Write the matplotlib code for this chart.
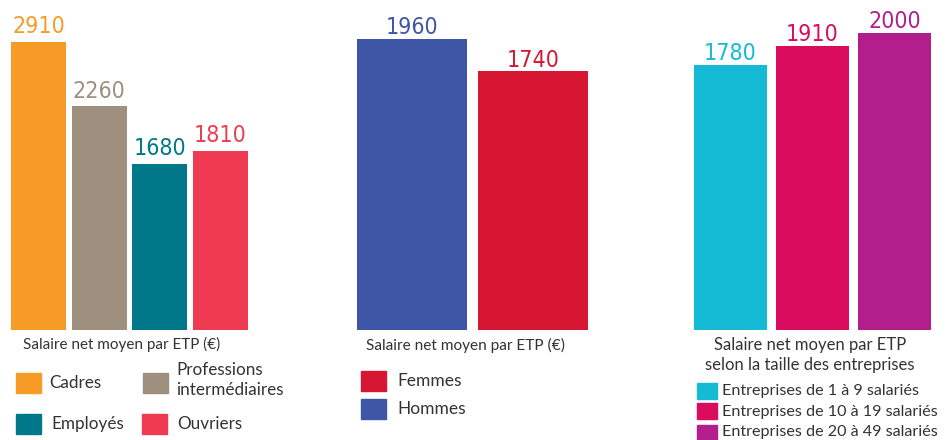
import matplotlib
matplotlib.use("Agg")
import matplotlib.pyplot as plt
from matplotlib.patches import Rectangle
from matplotlib import font_manager
from matplotlib.font_manager import FontProperties

# --- data -------------------------------------------------------------
csp_labels = ["Cadres", "Professions\nintermédiaires", "Employés", "Ouvriers"]
csp_values = [2910, 2260, 1680, 1810]
csp_colors = ["#F79B28", "#9E8F7E", "#00788A", "#EE3B52"]

sexe_labels = ["Hommes", "Femmes"]
sexe_values = [1960, 1740]
sexe_colors = ["#3F55A5", "#D71634"]

taille_labels = ["Entreprises de 1 à 9 salariés",
                 "Entreprises de 10 à 19 salariés",
                 "Entreprises de 20 à 49 salariés"]
taille_values = [1780, 1910, 2000]
taille_colors = ["#15BBD4", "#DA0C5E", "#B21E8B"]

caption_1 = "Salaire net moyen par ETP (€)"
caption_2 = "Salaire net moyen par ETP (€)"
caption_3 = "Salaire net moyen par ETP\nselon la taille des entreprises"

# --- fonts ------------------------------------------------------------
# narrow face for the figures above the bars, if one is installed
narrow = None
for f in font_manager.fontManager.ttflist:
    low = (f.name + " " + f.fname).lower()
    if ("narrow" in low or "condensed" in low) and "bold" not in low and "italic" not in low \
            and "oblique" not in low:
        narrow = f.fname
        break
if narrow:
    num_prop = FontProperties(fname=narrow, size=16.6)
else:
    num_prop = FontProperties(family="Roboto", size=16)

available = {f.name for f in font_manager.fontManager.ttflist}
txt_font = "Lato" if "Lato" in available else "DejaVu Sans"
TXT = "#333333"

W, H = 952, 440
fig = plt.figure(figsize=(W / 100, H / 100), dpi=100)


def fx(x):
    return x / W


def fy(y):
    return 1 - y / H


def bar_panel(left, right, baseline, px_per_unit, width, values, colors, label_gap):
    n = len(values)
    height_px = 320
    ax = fig.add_axes([fx(left), fy(baseline), (right - left) / W, height_px / H])
    ax.set_xlim(-width / 2, n - 1 + width / 2)
    ax.set_ylim(0, height_px / px_per_unit)
    ax.bar(range(n), values, width=width, color=colors)
    for i, (v, c) in enumerate(zip(values, colors)):
        ax.annotate(f"{v}", (i, v), xytext=(0, label_gap * 0.72),
                    textcoords="offset points", ha="center", va="baseline",
                    fontproperties=num_prop, color=c, clip_on=False)
    ax.axis("off")
    return ax


bar_panel(11, 248, 330, 0.099, 0.906, csp_values, csp_colors, 8.5)
bar_panel(357, 588, 330, 0.1487, 0.909, sexe_values, sexe_colors, 4.5)
bar_panel(694, 931, 330, 0.1487, 0.89, taille_values, taille_colors, 5)


def square(x0, y0, x1, y1, color):
    fig.patches.append(Rectangle((fx(x0), fy(y1)), (x1 - x0) / W, (y1 - y0) / H,
                                 transform=fig.transFigure, color=color,
                                 figure=fig))


def label(x, y, s, size, ha="left", linespacing=1.2):
    fig.text(fx(x), fy(y), s, ha=ha, va="center", fontsize=size, color=TXT,
             family=txt_font, linespacing=linespacing)


# panel 1: socio-professional categories
label(23, 344, caption_1, 11.0)
square(16, 373, 41, 393, csp_colors[0])
label(49, 383, csp_labels[0], 12.3)
square(143, 373, 168, 393, csp_colors[1])
label(176, 380, csp_labels[1], 12.3, linespacing=1.3)
square(16, 414, 41, 434, csp_colors[2])
label(51, 424, csp_labels[2], 12.3)
square(142, 414, 167, 434, csp_colors[3])
label(177, 424, csp_labels[3], 12.3)

# panel 2: sex
label(366, 345, caption_2, 11.1)
square(361, 371, 386, 391, sexe_colors[1])
label(397, 381, sexe_labels[1], 12.5)
square(361, 399, 386, 419, sexe_colors[0])
label(397, 409, sexe_labels[0], 12.5)

# panel 3: company size
label(810, 355, caption_3, 12.0, ha="center", linespacing=1.25)
for (y0, y1, yc), lab, col in zip([(383, 399, 391), (403, 419, 412), (425, 441, 432)],
                                  taille_labels, taille_colors):
    square(697, y0, 717, y1, col)
    label(722, yc, lab, 11.6)

fig.savefig("out.png", dpi=100)
